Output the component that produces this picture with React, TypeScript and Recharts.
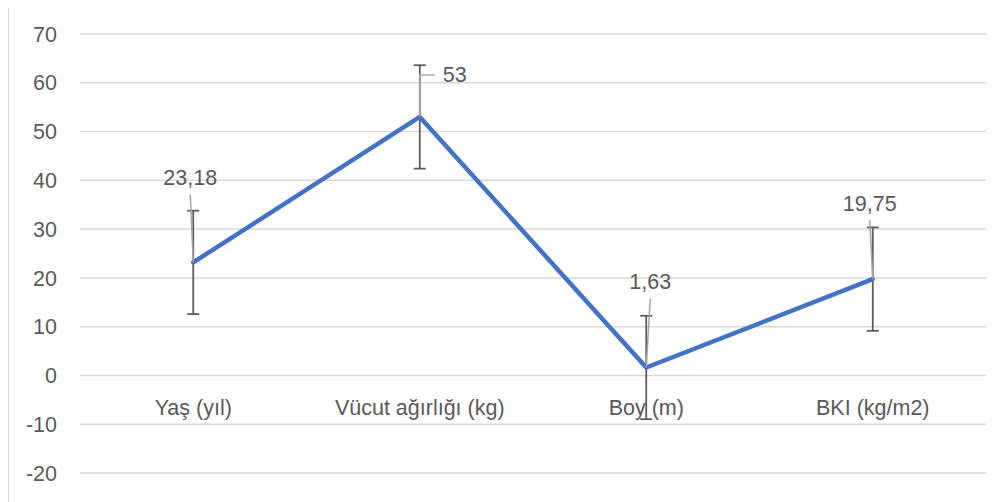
import React from 'react';
import { LineChart, Line, XAxis, YAxis, CartesianGrid, ErrorBar, LabelList, ReferenceDot } from 'recharts';

const categories = ['Yaş (yıl)', 'Vücut ağırlığı (kg)', 'Boy (m)', 'BKI (kg/m2)'];
const means = [23.18, 53, 1.63, 19.75];
const errors = [10.6, 10.6, 10.6, 10.6];
const yTicks = [-20, -10, 0, 10, 20, 30, 40, 50, 60, 70];

const data = categories.map((c, i) => ({ name: c, value: means[i], err: errors[i] }));

// label placement (style, relative to each point)
const labelDx = [-3, 35, 4, -3];
const labelDy = [-84, -42, -85, -75];

const FONT = '"Liberation Sans", Arial, sans-serif';
const TEXT = '#595959';
const FS = 21.5;

const fmt = (v: number) => String(v).replace('.', ',');

const ValueLabel = (props: any) => {
  const { x, y, value, index } = props;
  const dx = labelDx[index] ?? 0;
  const dy = labelDy[index] ?? -80;
  const lx = x + dx;
  const ly = y + dy;
  let leader;
  if (index === 1) {
    leader = <path d={`M${x},${y} L${x},${ly} L${lx - 20},${ly}`} stroke="#a6a6a6" strokeWidth={1.5} fill="none" />;
  } else {
    leader = <line x1={x} y1={y} x2={lx} y2={ly + 16} stroke="#a6a6a6" strokeWidth={1.5} />;
  }
  return (
    <g>
      {leader}
      <text x={lx} y={ly} textAnchor="middle" dominantBaseline="central" fontFamily={FONT} fontSize={FS} fill={TEXT}>
        {fmt(value)}
      </text>
    </g>
  );
};

const CatLabel = (props: any) => {
  const { viewBox, value } = props;
  const cx = viewBox.x + viewBox.width / 2;
  const cy = viewBox.y + viewBox.height / 2;
  return (
    <text x={cx} y={cy + 33} textAnchor="middle" dominantBaseline="central" fontFamily={FONT} fontSize={FS} fill={TEXT}>
      {value}
    </text>
  );
};

export default function App() {
  return (
    <div style={{ marginTop: -3, width: 1000, height: 510, border: '1px solid #d9d9d9', boxSizing: 'border-box', background: '#fff' }}>
      <LineChart width={998} height={508} data={data} margin={{ top: 28, right: 21, bottom: 41, left: 11 }}>
        <CartesianGrid vertical={false} stroke="#d9d9d9" strokeWidth={1.5} />
        <XAxis dataKey="name" scale="band" hide />
        <YAxis
          domain={[-20, 70]}
          ticks={yTicks}
          axisLine={false}
          tickLine={false}
          tickSize={0}
          tickMargin={23}
          width={60}
          tick={{ fontSize: FS, fill: TEXT, fontFamily: FONT }}
        />
        {categories.map((c) => (
          <ReferenceDot key={c} x={c} y={0} r={1} fill="none" stroke="none" label={{ value: c, content: <CatLabel /> }} />
        ))}
        <Line
          dataKey="value"
          stroke="#4472C4"
          strokeWidth={4.5}
          dot={false}
          activeDot={false}
          strokeLinecap="round"
          strokeLinejoin="round"
          isAnimationActive={false}
        >
          <ErrorBar dataKey="err" width={6} stroke="#595959" strokeWidth={1.75} direction="y" />
          <LabelList dataKey="value" content={<ValueLabel />} />
        </Line>
      </LineChart>
    </div>
  );
}
